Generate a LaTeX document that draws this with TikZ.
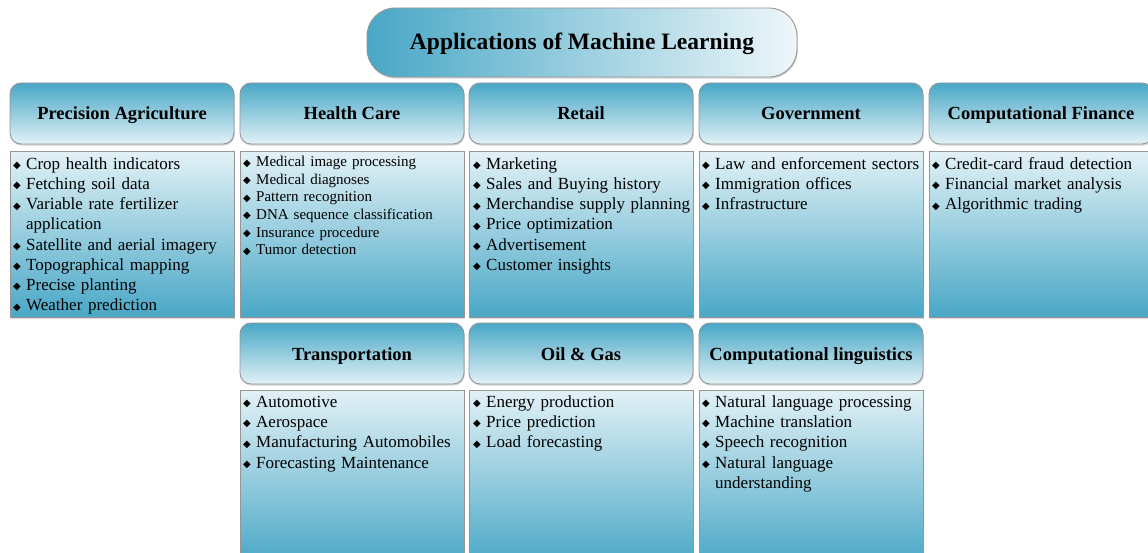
\documentclass[tikz,border=0pt]{standalone}
\usepackage{fontspec}
\setmainfont{Liberation Serif}[BoldFont={Liberation Serif Bold}]
\newfontfamily\dejavu{DejaVu Sans}
\usetikzlibrary{shadows}
\definecolor{tealD}{RGB}{72,167,198}
\definecolor{tealL}{RGB}{226,241,246}
\definecolor{edgeG}{RGB}{150,150,150}
\newcommand{\bul}{\makebox[13pt][l]{\raisebox{0.1ex}{\dejavu\fontsize{10}{10}\selectfont ◆}}}
\newcommand{\itm}[1]{\par\noindent\bul#1}
\newcommand{\itmc}[1]{\par\noindent\hspace*{13pt}#1}
\tikzset{
  hdr/.style={rounded corners=11pt, draw=edgeG, line width=0.9pt, top color=tealD, bottom color=tealL,
    minimum width=224pt, minimum height=61pt, inner sep=0pt, text height=16.5pt, text depth=3.5pt,
    font=\fontsize{18.5}{20}\selectfont\bfseries,
    drop shadow={opacity=0.35, shadow xshift=0.8pt, shadow yshift=-1.6pt}},
  ttl/.style={rounded corners=28pt, draw=edgeG, line width=0.9pt, left color=tealD, right color=tealL!60!white,
    minimum width=430pt, minimum height=69pt, inner sep=0pt, text height=18pt, text depth=3pt,
    font=\fontsize{23.5}{25}\selectfont\bfseries,
    drop shadow={opacity=0.35, shadow xshift=0.8pt, shadow yshift=-1.6pt}},
  cbox/.style={draw=edgeG, line width=1.2pt, top color=tealL, bottom color=tealD,
    minimum width=224pt, inner sep=0pt, anchor=north west,
    drop shadow={opacity=0.3, shadow xshift=0.8pt, shadow yshift=-1.6pt}},
  lst/.style={anchor=north west, inner sep=0pt, text width=218pt, align=left,
    font=\fontsize{17}{20.2}\selectfont},
  lsts/.style={lst, font=\fontsize{15}{17.6}\selectfont},
}
\begin{document}
\begin{tikzpicture}[x=1pt,y=-1pt]
\useasboundingbox (0,0) rectangle (1148,553);
% title
\node[ttl] (title) at (582,42.5) {Applications of Machine Learning};
% row 1 headers
\node[hdr] (h1) at (122,113.5) {Precision Agriculture};
\node[hdr] (h2) at (352,113.5) {Health Care};
\node[hdr] (h3) at (581,113.5) {Retail};
\node[hdr] (h4) at (811,113.5) {Government};
\node[hdr] (h5) at (1041,113.5) {Computational Finance};
% row 1 content boxes
\node[cbox, minimum height=166pt] (c1) at (10,151) {};
\node[cbox, minimum height=166pt] (c2) at (240,151) {};
\node[cbox, minimum height=166pt] (c3) at (469,151) {};
\node[cbox, minimum height=166pt] (c4) at (699,151) {};
\node[cbox, minimum height=166pt] (c5) at (929,151) {};
% row 2 headers
\node[hdr] (h6) at (352,353.5) {Transportation};
\node[hdr] (h7) at (581,353.5) {Oil \& Gas};
\node[hdr] (h8) at (811,353.5) {Computational linguistics};
% row 2 content boxes
\node[cbox, minimum height=175pt] (c6) at (240,390) {};
\node[cbox, minimum height=175pt] (c7) at (469,390) {};
\node[cbox, minimum height=175pt] (c8) at (699,390) {};
% lists
\node[lst] (l1) at (13,149) {\itm{Crop health indicators}\itm{Fetching soil data}\itm{Variable rate fertilizer}\itmc{application}\itm{Satellite and aerial imagery}\itm{Topographical mapping}\itm{Precise planting}\itm{Weather prediction}};
\node[lsts] (l2) at (243,149) {\itm{Medical image processing}\itm{Medical diagnoses}\itm{Pattern recognition}\itm{DNA sequence classification}\itm{Insurance procedure}\itm{Tumor detection}};
\node[lst] (l3) at (473,149) {\itm{Marketing}\itm{Sales and Buying history}\itm{Merchandise supply planning}\itm{Price optimization}\itm{Advertisement}\itm{Customer insights}};
\node[lst] (l4) at (702,149) {\itm{Law and enforcement sectors}\itm{Immigration offices}\itm{Infrastructure}};
\node[lst] (l5) at (932,149) {\itm{Credit-card fraud detection}\itm{Financial market analysis}\itm{Algorithmic trading}};
\node[lst] (l6) at (243,387) {\itm{Automotive}\itm{Aerospace}\itm{Manufacturing Automobiles}\itm{Forecasting Maintenance}};
\node[lst] (l7) at (473,387) {\itm{Energy production}\itm{Price prediction}\itm{Load forecasting}};
\node[lst] (l8) at (702,387) {\itm{Natural language processing}\itm{Machine translation}\itm{Speech recognition}\itm{Natural language}\itmc{understanding}};
\end{tikzpicture}
\end{document}
